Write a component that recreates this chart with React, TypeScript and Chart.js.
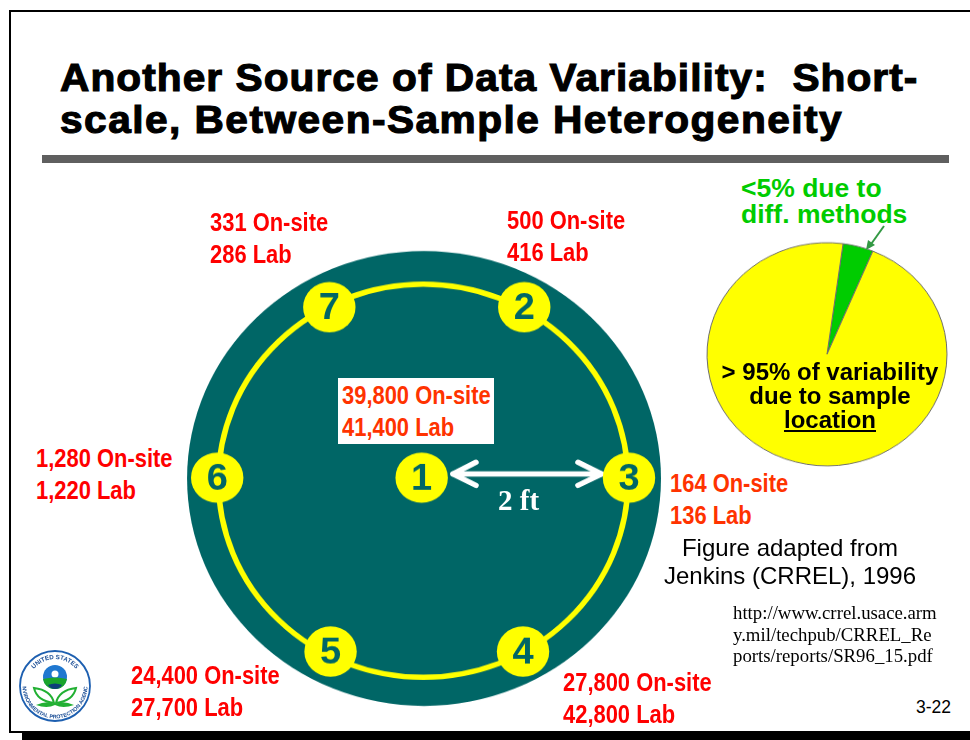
import React, { useEffect, useRef } from "react";
import { Chart, registerables } from "chart.js";

Chart.register(...registerables);

// Sample locations, in feet from the centre of the plot
const sampleIds = ["1", "2", "3", "4", "5", "6", "7"];
const sampleX = [-0.013, 0.988, 2.01, 0.976, -0.902, -2.008, -0.914];
const sampleY = [0.008, 1.741, 0.008, -1.759, -1.759, 0.008, 1.741];
const ringRadiusFt = 1.998;
const plotRadiusFt = 2.312;

// Results per location
const onSite = ["39,800", "500", "164", "27,800", "24,400", "1,280", "331"];
const lab = ["41,400", "416", "136", "42,800", "27,700", "1,220", "286"];

// Double-headed arrow between locations 1 and 3
const shaftX = [0.293, 1.743];
const shaftY = [0.046, 0.046];
const leftHeadX = [0.517, 0.293, 0.517];
const rightHeadX = [1.512, 1.743, 1.512];
const headY = [0.165, 0.046, -0.07];

// Variability pie
const pieLabels = ["Different methods", "Sample location"];
const pieValues = [4.1, 95.9];
const pieColors = ["#00cc00", "#ffff00"];

const titleLines = ["Another Source of Data Variability:  Short-", "scale, Between-Sample Heterogeneity"];
const titleSpacing = [0.98, 1.36];
const pieTextLines = ["> 95% of variability", "due to sample"];
const urlLines = ["http://www.crrel.usace.arm", "y.mil/techpub/CRREL_Re", "ports/reports/SR96_15.pdf"];

const RED = "#ff0000";
const ORANGE = "#ff3300";
const ARIAL = '"Liberation Sans", Arial, sans-serif';
const TIMES = '"Liberation Serif", serif';

const labelBoxes = [
  { i: 6, x: 210, y: 206, c: RED },
  { i: 1, x: 507, y: 204, c: RED },
  { i: 5, x: 36, y: 442, c: RED },
  { i: 0, x: 342, y: 379, c: ORANGE },
  { i: 2, x: 670, y: 467, c: ORANGE },
  { i: 4, x: 131, y: 659, c: RED },
  { i: 3, x: 563, y: 666, c: RED },
];

const abs = (left: number, top: number, extra: React.CSSProperties = {}): React.CSSProperties => ({
  position: "absolute",
  left,
  top,
  whiteSpace: "pre",
  ...extra,
});

const radiusFrom = (ft: number) => (ctx: any) => {
  const s = ctx.chart.scales.x;
  return s.getPixelForValue(ft) - s.getPixelForValue(0);
};

function Seal() {
  return (
    <svg width={76} height={76} viewBox="0 0 76 76" style={{ position: "absolute", left: 17, top: 648 }}>
      <circle cx={38} cy={38} r={35} fill="#fff" stroke="#1d5fb0" strokeWidth={1.8} />
      <defs>
        <path id="sealTop" d="M 11 38 A 27 27 0 0 1 65 38" />
        <path id="sealBottom" d="M 5.5 38 A 32.5 32.5 0 0 0 70.5 38" />
      </defs>
      <text fontFamily={ARIAL} fontSize={6.2} fontWeight={700} fill="#1d4f96">
        <textPath href="#sealTop" startOffset="50%" textAnchor="middle">UNITED STATES</textPath>
      </text>
      <text fontFamily={ARIAL} fontSize={5.4} fontWeight={700} fill="#1d4f96">
        <textPath href="#sealBottom" startOffset="50%" textAnchor="middle">ENVIRONMENTAL PROTECTION AGENCY</textPath>
      </text>
      <circle cx={38} cy={29} r={12} fill="#1f78d0" />
      <circle cx={38} cy={26} r={3.5} fill="#fff" />
      <path d="M26 31 Q38 28 50 31 A12 12 0 0 1 40 41 L36 41 A12 12 0 0 1 26 31Z" fill="#1aa52c" />
      <path d="M31 37 Q38 34 45 37 Q42 41 38 41 Q34 41 31 37Z" fill="#0d3f7a" />
      <path d="M37 55 Q34 42 17 40 Q20 53 37 55Z" fill="#fff" stroke="#22b033" strokeWidth={2} />
      <path d="M39 55 Q42 42 59 40 Q56 53 39 55Z" fill="#fff" stroke="#22b033" strokeWidth={2} />
      <path d="M19 57 Q30 52 38 56 Q46 52 57 57 Q46 61 38 57 Q30 61 19 57Z" fill="#22b033" />
    </svg>
  );
}

export default function App() {
  const plotRef = useRef<HTMLCanvasElement>(null);
  const pieRef = useRef<HTMLCanvasElement>(null);

  useEffect(() => {
    const digits = {
      id: "digits",
      afterDatasetsDraw(chart: any) {
        const { ctx, scales } = chart;
        ctx.save();
        ctx.fillStyle = "#006666";
        ctx.font = 'bold 38px "Liberation Sans", Arial, sans-serif';
        ctx.textAlign = "center";
        ctx.textBaseline = "middle";
        sampleIds.forEach((id, i) => {
          ctx.fillText(id, scales.x.getPixelForValue(sampleX[i]), scales.y.getPixelForValue(sampleY[i]) + 2);
        });
        ctx.restore();
      },
    };

    const arrow = (xs: number[], ys: number[]) => ({
      type: "line" as const,
      data: xs.map((x, i) => ({ x, y: ys[i] })),
      borderColor: "#ffffff",
      borderWidth: 5.5,
      borderCapStyle: "round" as const,
      borderJoinStyle: "round" as const,
      pointRadius: 0,
      tension: 0,
      showLine: true,
    });

    const plot = new Chart(plotRef.current!, {
      type: "scatter",
      data: {
        datasets: [
          { data: [{ x: 0.01, y: 0 }], pointRadius: radiusFrom(plotRadiusFt), pointBackgroundColor: "#006666", pointBorderWidth: 0, clip: false, order: 5 },
          { data: [{ x: 0.002, y: -0.023 }], pointRadius: radiusFrom(ringRadiusFt), pointBackgroundColor: "transparent", pointBorderColor: "#ffff00", pointBorderWidth: 5.5, clip: false, order: 4 },
          { data: sampleX.map((x, i) => ({ x, y: sampleY[i] })), pointRadius: 26.2, pointBackgroundColor: "#ffff00", pointBorderWidth: 0, clip: false, order: 1 },
          { ...arrow(shaftX, shaftY), order: 2 },
          { ...arrow(leftHeadX, headY), order: 2 },
          { ...arrow(rightHeadX, headY), order: 2 },
        ],
      },
      options: {
        animation: false,
        responsive: false,
        layout: { padding: 0, autoPadding: false },
        scales: {
          x: { type: "linear", display: false, min: -2.371, max: 2.41 },
          y: { type: "linear", display: false, min: -2.408, max: 2.373 },
        },
        plugins: { legend: { display: false }, tooltip: { enabled: false } },
      },
      plugins: [digits],
    } as any);

    const pie = new Chart(pieRef.current!, {
      type: "pie",
      data: {
        labels: pieLabels,
        datasets: [{ data: pieValues, backgroundColor: pieColors, borderColor: "#6e6e6e", borderWidth: 1 }],
      },
      options: {
        animation: false,
        responsive: false,
        rotation: 7.7,
        radius: 120,
        layout: { padding: 0 },
        plugins: { legend: { display: false }, tooltip: { enabled: false } },
      },
    } as any);

    return () => {
      plot.destroy();
      pie.destroy();
    };
  }, []);

  return (
    <div style={{ position: "fixed", left: 0, top: 0, width: 970, height: 740, overflow: "hidden", background: "#fff", fontFamily: ARIAL }}>
      {/* slide frame */}
      <div style={{ position: "absolute", left: 9, top: 10, width: 970, height: 719, border: "2px solid #000", boxSizing: "content-box" }} />
      <div style={{ position: "absolute", left: 22, top: 731, width: 948, height: 9, background: "#000" }} />

      {/* title */}
      {titleLines.map((t, i) => (
        <div
          key={t}
          style={abs(60, 57 + i * 42, {
            fontSize: 38,
            lineHeight: "42px",
            fontWeight: 700,
            color: "#000",
            WebkitTextStroke: "1.1px #000",
            letterSpacing: titleSpacing[i],
            transform: "scaleX(1.07)",
            transformOrigin: "0 0",
          })}
        >
          {t}
        </div>
      ))}
      <div style={{ position: "absolute", left: 42, top: 155, width: 907, height: 8, background: "#5f5f5f" }} />

      {/* sample plot */}
      <div style={{ position: "absolute", left: 180, top: 245, width: 490, height: 490, transform: "scaleY(0.96)", transformOrigin: "0 0" }}>
        <canvas ref={plotRef} width={490} height={490} style={{ display: "block" }} />
      </div>
      <div style={{ position: "absolute", left: 338, top: 378, width: 156, height: 66, background: "#fff" }} />

      {labelBoxes.map(({ i, x, y, c }) => (
        <div
          key={onSite[i]}
          style={abs(x, y, { fontWeight: 700, fontSize: 25, lineHeight: "32px", color: c, transform: "scaleX(0.877)", transformOrigin: "0 0" })}
        >
          {`${onSite[i]} On-site\n${lab[i]} Lab`}
        </div>
      ))}

      <div style={abs(498, 484, { fontFamily: TIMES, fontWeight: 700, fontSize: 29, lineHeight: "32px", color: "#fff" })}>2 ft</div>

      {/* variability pie */}
      <div style={{ position: "absolute", left: 702, top: 238.25, width: 250, height: 250, transform: "scaleY(0.93)", transformOrigin: "0 0" }}>
        <canvas ref={pieRef} width={250} height={250} style={{ display: "block" }} />
      </div>
      <div style={abs(741, 175, { fontWeight: 700, fontSize: 26.5, lineHeight: "26px", color: "#00cc00" })}>{"<5% due to\ndiff. methods"}</div>
      <svg width={40} height={40} style={{ position: "absolute", left: 860, top: 220 }}>
        <line x1={24} y1={6} x2={9} y2={27} stroke="#339944" strokeWidth={2} />
        <path d="M6 30 L8 20 L15 25Z" fill="#339944" />
      </svg>
      <div style={{ position: "absolute", left: 700, top: 360, width: 260, textAlign: "center", fontWeight: 700, fontSize: 24, lineHeight: "24px", color: "#000" }}>
        {pieTextLines.map((t) => (
          <div key={t}>{t}</div>
        ))}
        <div style={{ textDecoration: "underline" }}>location</div>
      </div>

      {/* source notes */}
      <div style={{ position: "absolute", left: 640, top: 534, width: 300, textAlign: "center", fontSize: 24, lineHeight: "28px", color: "#000" }}>
        Figure adapted from
        <br />
        Jenkins (CRREL), 1996
      </div>
      {urlLines.map((t, i) => (
        <div key={t} style={abs(733, 602 + i * 21.5, { fontFamily: TIMES, fontSize: 18.8, lineHeight: "22px", color: "#000" })}>
          {t}
        </div>
      ))}
      <div style={abs(916, 697, { fontSize: 17.5, lineHeight: "20px", color: "#000" })}>3-22</div>

      <Seal />
    </div>
  );
}
